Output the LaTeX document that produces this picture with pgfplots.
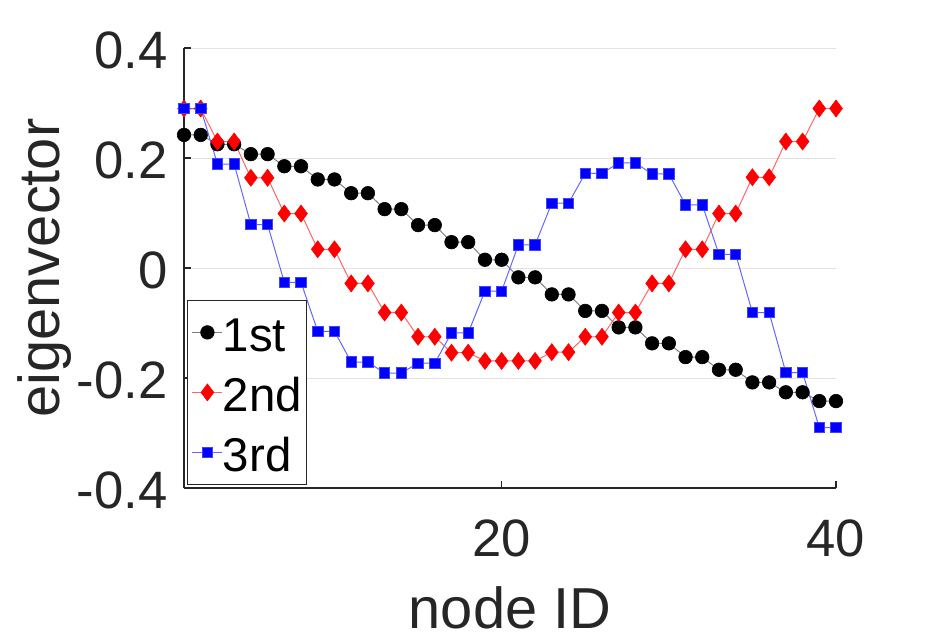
\documentclass[border=0pt]{standalone}
\usepackage{pgfplots}
\pgfplotsset{compat=1.18}
\usepackage{fontspec}
\setmainfont{Liberation Sans}
\definecolor{txt}{HTML}{262626}
\definecolor{gridc}{HTML}{E3E3E3}
\begin{document}
\begin{tikzpicture}
\fill[white] (0,0) rectangle (462.5pt,321pt);
\begin{axis}[
  at={(92pt,77pt)}, anchor=south west,
  scale only axis, width=326pt, height=220pt,
  xmin=1, xmax=40, ymin=-0.4, ymax=0.4,
  clip=false,
  axis x line*=bottom, axis y line*=left,
  axis line style={-, draw=txt, line width=0.55pt},
  xtick={20,40}, xticklabels={20,40},
  ytick={-0.4,-0.2,0,0.2,0.4}, yticklabels={-0.4,-0.2,0,0.2,0.4},
  tick align=inside, major tick length=3.3pt,
  tick style={draw=txt, line width=0.55pt},
  ymajorgrids, grid style={draw=gridc, line width=0.5pt},
  ticklabel style={font=\fontsize{26.3}{30}\selectfont, text=txt},
  xticklabel style={anchor=base, yshift=-34pt},
  yticklabel style={anchor=east, inner sep=0pt, xshift=-8pt, yshift=-1pt},
  xlabel={node ID}, ylabel={eigenvector},
  xlabel style={at={(axis description cs:0.5,0)}, anchor=base, yshift=-70pt, font=\fontsize{28.9}{34}\selectfont, text=txt},
  ylabel style={at={(axis description cs:-0.1902,0.5)}, anchor=base, font=\fontsize{28.9}{34}\selectfont, text=txt},
  legend entries={1st,2nd,3rd},
  legend cell align=left,
  legend style={at={(0,0)}, anchor=south west, xshift=1.5pt, yshift=1.5pt,
    draw=txt, line width=0.5pt, font=\fontsize{23.7}{28}\selectfont, text=black,
    inner xsep=2.2pt, inner ysep=1.05pt, row sep=0pt,
    nodes={inner sep=0pt, text height=24.55pt, text depth=5.45pt},
    /tikz/every even column/.append style={column sep=0.6pt}},
  legend image code/.code={\draw[mark repeat=2,mark phase=2] plot coordinates {(0pt,0pt) (7.5pt,0pt) (15pt,0pt)};},
]
\addplot[color=black!50, line width=0.5pt, mark=*, mark size=3.4pt, mark options={fill=black, draw=black, line width=0.3pt}] coordinates {
(1,0.242) (2,0.242) (3,0.225) (4,0.225) (5,0.207) (6,0.207) (7,0.185) (8,0.185) (9,0.161) (10,0.161)
(11,0.136) (12,0.136) (13,0.107) (14,0.107) (15,0.078) (16,0.078) (17,0.047) (18,0.047) (19,0.015) (20,0.015)
(21,-0.017) (22,-0.017) (23,-0.048) (24,-0.048) (25,-0.078) (26,-0.078) (27,-0.108) (28,-0.108) (29,-0.137) (30,-0.137)
(31,-0.162) (32,-0.162) (33,-0.185) (34,-0.185) (35,-0.208) (36,-0.208) (37,-0.226) (38,-0.226) (39,-0.242) (40,-0.242)
};
\addplot[color=red!60, line width=0.5pt, mark=diamond*, mark size=4.25pt, mark options={fill=red, draw=red, line width=0.3pt}] coordinates {
(1,0.290) (2,0.290) (3,0.230) (4,0.230) (5,0.164) (6,0.164) (7,0.099) (8,0.099) (9,0.034) (10,0.034)
(11,-0.028) (12,-0.028) (13,-0.081) (14,-0.081) (15,-0.125) (16,-0.125) (17,-0.154) (18,-0.154) (19,-0.169) (20,-0.169)
(21,-0.169) (22,-0.169) (23,-0.153) (24,-0.153) (25,-0.125) (26,-0.125) (27,-0.081) (28,-0.081) (29,-0.028) (30,-0.028)
(31,0.034) (32,0.034) (33,0.099) (34,0.099) (35,0.165) (36,0.165) (37,0.230) (38,0.230) (39,0.290) (40,0.290)
};
\addplot[color=blue!60, line width=0.5pt, mark=square*, mark size=2.6pt, mark options={fill=blue, draw=blue!75, line width=0.4pt}] coordinates {
(1,0.290) (2,0.290) (3,0.189) (4,0.189) (5,0.079) (6,0.079) (7,-0.026) (8,-0.026) (9,-0.115) (10,-0.115)
(11,-0.171) (12,-0.171) (13,-0.191) (14,-0.191) (15,-0.173) (16,-0.173) (17,-0.118) (18,-0.118) (19,-0.042) (20,-0.042)
(21,0.042) (22,0.042) (23,0.118) (24,0.118) (25,0.172) (26,0.172) (27,0.191) (28,0.191) (29,0.171) (30,0.171)
(31,0.115) (32,0.115) (33,0.025) (34,0.025) (35,-0.081) (36,-0.081) (37,-0.190) (38,-0.190) (39,-0.290) (40,-0.290)
};
\end{axis}
\pgfresetboundingbox
\useasboundingbox (0,0) rectangle (462.5pt,321pt);
\end{tikzpicture}
\end{document}
